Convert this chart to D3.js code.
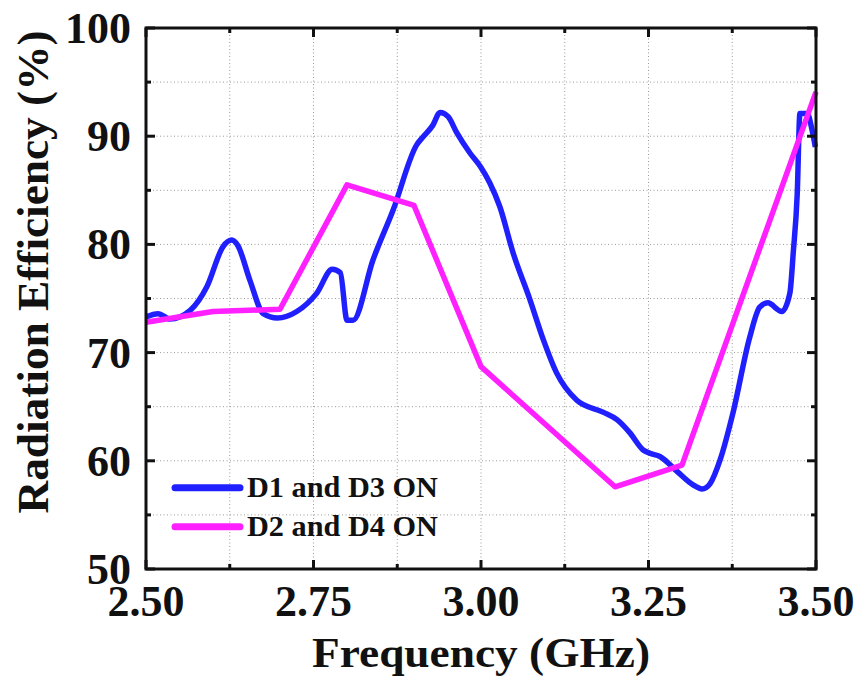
<!DOCTYPE html>
<html>
<head>
<meta charset="utf-8">
<script src="https://cdn.jsdelivr.net/npm/d3@7"></script>
<style>
  body { margin: 0; background: #fff; }
  svg text { font-family: "Times New Roman", Times, "Liberation Serif", serif; font-weight: bold; fill: #111; }
</style>
</head>
<body>
<svg id="chart" width="863" height="682"></svg>
<script>
// D1 and D3 ON (blue)
const blueFreq = [2.500, 2.518, 2.536, 2.566, 2.591, 2.615, 2.628, 2.637, 2.655, 2.675,
  2.696, 2.725, 2.755, 2.778, 2.790, 2.800, 2.809, 2.839, 2.869, 2.904,
  2.913, 2.928, 2.939, 2.951, 2.964, 2.984, 2.999, 3.013, 3.028, 3.048,
  3.073, 3.093, 3.113, 3.143, 3.182, 3.203, 3.222, 3.242, 3.252, 3.267,
  3.293, 3.316, 3.330, 3.342, 3.357, 3.376, 3.401, 3.416, 3.428, 3.449,
  3.461, 3.466, 3.472, 3.476, 3.487, 3.494, 3.499];
const blueEff = [73.3, 73.6, 73.1, 73.9, 76.1, 79.8, 80.4, 79.9, 76.7, 73.6,
  73.2, 73.8, 75.5, 77.7, 77.4, 73.0, 73.0, 78.6, 83.2, 89.2,
  89.9, 91.0, 92.2, 91.8, 90.3, 88.4, 87.2, 85.7, 83.5, 79.2,
  74.9, 71.2, 68.1, 65.6, 64.5, 63.8, 62.6, 61.0, 60.7, 60.4,
  59.0, 57.8, 57.4, 57.9, 60.1, 64.4, 71.4, 74.2, 74.6, 73.8,
  75.5, 79.2, 84.7, 92.1, 92.1, 90.6, 89.0];

// D2 and D4 ON (magenta)
const magFreq = [2.5, 2.6, 2.7, 2.8, 2.9, 3.0, 3.2, 3.3, 3.5];
const magEff = [72.8, 73.8, 74.0, 85.5, 83.6, 68.7, 57.6, 59.6, 94.1];

const xMajor = [2.50, 2.75, 3.00, 3.25, 3.50];
const xMinor = [2.625, 2.875, 3.125, 3.375];
const yMajor = [50, 60, 70, 80, 90, 100];
const yMinor = [55, 65, 75, 85, 95];

const legendNames = ["D1 and D3 ON", "D2 and D4 ON"];
const colors = ["#2020ff", "#ff20ff"];

const m = [28, 47, 113, 146]; // top right bottom left
const width = 863, height = 682;
const w = width - m[1] - m[3];
const h = height - m[0] - m[2];

const svg = d3.select("#chart");
const g = svg.append("g").attr("transform", "translate(" + m[3] + "," + m[0] + ")");

const x = d3.scaleLinear().domain([2.5, 3.5]).range([0, w]);
const y = d3.scaleLinear().domain([50, 100]).range([h, 0]);

// dotted grid at every major and minor tick
const grid = g.append("g").attr("class", "grid");
grid.selectAll(".gx").data(xMajor.concat(xMinor).filter(v => v > 2.5 && v < 3.5)).enter()
  .append("line")
  .attr("x1", d => x(d)).attr("x2", d => x(d))
  .attr("y1", 0).attr("y2", h)
  .attr("stroke", "#9a9a9a").attr("stroke-width", 1).attr("stroke-dasharray", "1,2.5");
grid.selectAll(".gy").data(yMajor.concat(yMinor).filter(v => v > 50 && v < 100)).enter()
  .append("line")
  .attr("x1", 0).attr("x2", w)
  .attr("y1", d => y(d)).attr("y2", d => y(d))
  .attr("stroke", "#9a9a9a").attr("stroke-width", 1).attr("stroke-dasharray", "1,2.5");

// curves
const blue = blueFreq.map((f, i) => [f, blueEff[i]]);
const mag = magFreq.map((f, i) => [f, magEff[i]]);

g.append("path").datum(blue)
  .attr("fill", "none").attr("stroke", colors[0]).attr("stroke-width", 5.5)
  .attr("stroke-linejoin", "round")
  .attr("d", d3.line().x(d => x(d[0])).y(d => y(d[1])).curve(d3.curveMonotoneX));
g.append("path").datum(mag)
  .attr("fill", "none").attr("stroke", colors[1]).attr("stroke-width", 5.5)
  .attr("stroke-linejoin", "round")
  .attr("d", d3.line().x(d => x(d[0])).y(d => y(d[1])));

// ticks pointing inward on all four sides
function tickAxes() {
  const t = g.append("g").attr("class", "ticks").attr("stroke", "#111").attr("stroke-width", 3);
  xMajor.concat(xMinor).forEach(v => {
    const len = xMajor.includes(v) ? 9 : 5;
    t.append("line").attr("x1", x(v)).attr("x2", x(v)).attr("y1", h).attr("y2", h - len);
    t.append("line").attr("x1", x(v)).attr("x2", x(v)).attr("y1", 0).attr("y2", len);
  });
  yMajor.concat(yMinor).forEach(v => {
    const len = yMajor.includes(v) ? 9 : 5;
    t.append("line").attr("x1", 0).attr("x2", len).attr("y1", y(v)).attr("y2", y(v));
    t.append("line").attr("x1", w).attr("x2", w - len).attr("y1", y(v)).attr("y2", y(v));
  });
}
tickAxes();

// frame
g.append("rect").attr("x", 0).attr("y", 0).attr("width", w).attr("height", h)
  .attr("fill", "none").attr("stroke", "#111").attr("stroke-width", 3);

// tick labels
g.selectAll(".xl").data(xMajor).enter().append("text")
  .attr("x", d => x(d)).attr("y", h + 47)
  .attr("text-anchor", "middle").style("font-size", "44px")
  .text(d => d.toFixed(2));
g.selectAll(".yl").data(yMajor).enter().append("text")
  .attr("x", -15).attr("y", d => y(d)).attr("dy", "0.34em")
  .attr("text-anchor", "end").style("font-size", "44px")
  .text(d => d);

// axis titles
svg.append("text")
  .attr("x", m[3] + w / 2).attr("y", 667)
  .attr("text-anchor", "middle").style("font-size", "42px")
  .attr("textLength", 338).attr("lengthAdjust", "spacingAndGlyphs")
  .text("Frequency (GHz)");
svg.append("text")
  .attr("transform", "translate(48,272) rotate(-90)")
  .attr("text-anchor", "middle").style("font-size", "45px")
  .attr("textLength", 483).attr("lengthAdjust", "spacingAndGlyphs")
  .text("Radiation Efficiency (%)");

// legend
const lg = g.append("g").attr("class", "legend");
legendNames.forEach((name, i) => {
  const ly = y(57.5) - i * (y(57.5) - y(53.9));
  lg.append("line")
    .attr("x1", 29).attr("x2", 94).attr("y1", ly).attr("y2", ly)
    .attr("stroke", colors[i]).attr("stroke-width", 7).attr("stroke-linecap", "round");
  lg.append("text")
    .attr("x", 101).attr("y", ly + 9)
    .style("font-size", "29px")
    .attr("textLength", 191).attr("lengthAdjust", "spacingAndGlyphs")
    .text(name);
});
</script>
</body>
</html>
